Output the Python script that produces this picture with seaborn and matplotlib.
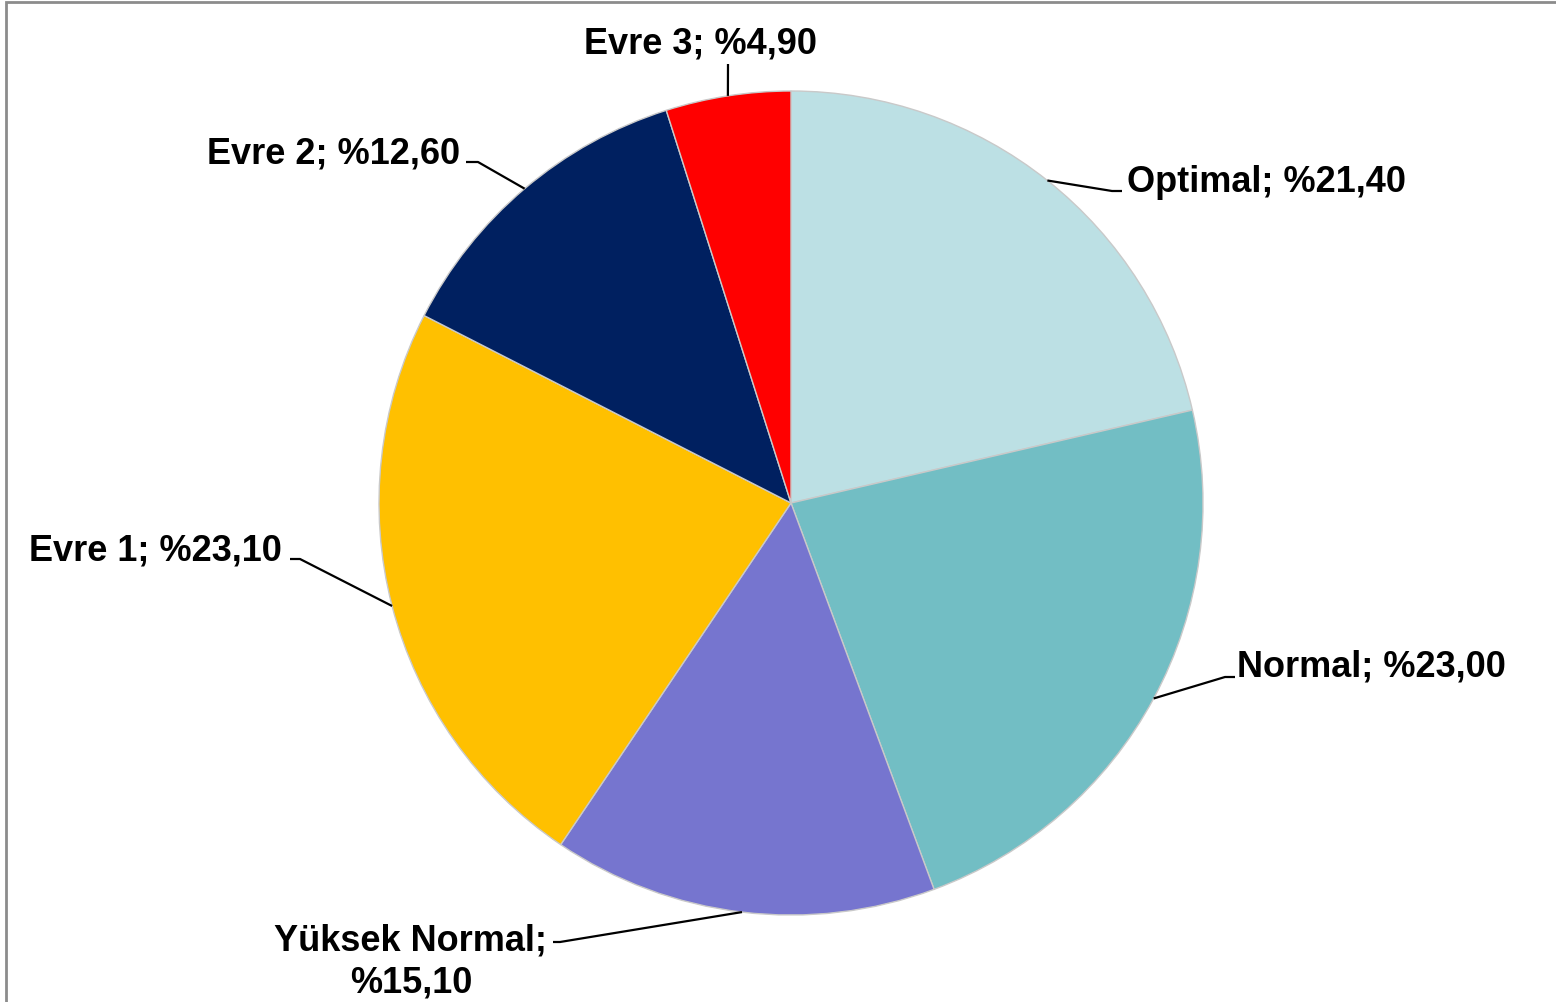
import matplotlib
matplotlib.use("Agg")
import matplotlib.pyplot as plt
import seaborn as sns
import numpy as np
from matplotlib.patches import Rectangle

sns.set_theme(style="white")
plt.rcParams["font.family"] = ["Liberation Sans", "DejaVu Sans"]

# Data
categories = ["Optimal", "Normal", "Yüksek Normal", "Evre 1", "Evre 2", "Evre 3"]
values = [21.4, 23.0, 15.1, 23.1, 12.6, 4.9]
value_labels = ["%21,40", "%23,00", "%15,10", "%23,10", "%12,60", "%4,90"]
colors = ["#BCE0E4", "#72BEC4", "#7675CF", "#FFC000", "#002060", "#FF0000"]

W, H = 1556, 1003
fig = plt.figure(figsize=(W / 100, H / 100), dpi=100)
fig.patch.set_facecolor("white")
ax = fig.add_axes([0, 0, 1, 1])

wedges, _ = ax.pie(values, colors=colors, startangle=90, counterclock=False,
                   center=(791, H - 504), radius=412,
                   wedgeprops=dict(edgecolor="#c9c9c9", linewidth=1))
ax.set_xlim(0, W)
ax.set_ylim(0, H)
ax.set_aspect("equal")
ax.axis("off")

# label placement in image pixels (y down): text anchor, ha, leader elbow points
layout = [
    ((1127, 192), "left", [(1112, 192), (1122, 192)]),
    ((1237, 677), "left", [(1225, 678), (1235, 678)]),
    ((411, 951), "center", [(560, 943), (553, 943)]),
    ((282, 560), "right", [(300, 560), (290, 560)]),
    ((460, 163), "right", [(478, 163), (466, 163)]),
    ((701, 53), "center", [(728, 65)]),
]

for w, cat, lab, (pos, ha, elbow) in zip(wedges, categories, value_labels, layout):
    mid = np.deg2rad((w.theta1 + w.theta2) / 2)
    sx = w.center[0] + w.r * np.cos(mid)
    sy = w.center[1] + w.r * np.sin(mid)
    xs = [sx] + [p[0] for p in elbow]
    ys = [sy] + [H - p[1] for p in elbow]
    ax.plot(xs, ys, color="black", lw=1.6, solid_capstyle="butt")
    if cat == "Yüksek Normal":
        ax.text(pos[0], H - pos[1], cat + ";", ha=ha, va="baseline",
                fontsize=26, fontweight="bold", color="black")
        ax.text(pos[0], H - pos[1] - 42, lab, ha=ha, va="baseline",
                fontsize=26, fontweight="bold", color="black")
    else:
        ax.text(pos[0], H - pos[1], f"{cat}; {lab}", ha=ha, va="baseline",
                fontsize=26, fontweight="bold", color="black")

# gray frame (only left and top edges visible in the crop)
fig.patches.append(Rectangle((6 / W, -0.1), 2, 1.1 - 3 / H, transform=fig.transFigure,
                             fill=False, edgecolor="#8c8c8c", linewidth=2))

fig.savefig("out.png", dpi=100, facecolor="white")
